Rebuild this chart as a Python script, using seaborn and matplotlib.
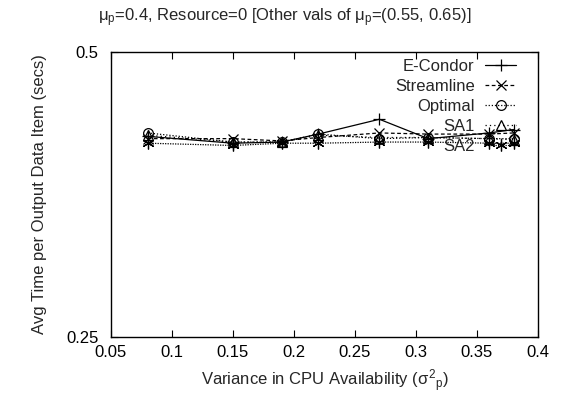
import pandas as pd
import matplotlib
matplotlib.use('Agg')
import matplotlib.pyplot as plt
import seaborn as sns

# datos
variance = [0.08, 0.15, 0.19, 0.22, 0.27, 0.31, 0.36, 0.38]
e_condor = [0.426, 0.420, 0.421, 0.428, 0.441, 0.424, 0.429, 0.432]
streamline = [0.424, 0.424, 0.422, 0.425, 0.429, 0.428, 0.428, 0.429]
optimal = [0.429, 0.421, 0.421, 0.428, 0.424, 0.425, 0.424, 0.424]
sa1 = [0.427, 0.421, 0.421, 0.427, 0.425, 0.425, 0.424, 0.423]
sa2 = [0.420, 0.418, 0.420, 0.420, 0.421, 0.421, 0.420, 0.420]

series_names = ['E-Condor', 'Streamline', 'Optimal', 'SA1', 'SA2']
xticks = [0.05, 0.1, 0.15, 0.2, 0.25, 0.3, 0.35, 0.4]
yticks = [0.25, 0.5]

sns.set_style('ticks')
plt.rcParams['font.family'] = ['Liberation Sans', 'DejaVu Sans']
plt.rcParams['mathtext.fontset'] = 'custom'
plt.rcParams['mathtext.rm'] = 'Liberation Sans'
plt.rcParams['mathtext.it'] = 'Liberation Sans'
plt.rcParams['mathtext.bf'] = 'Liberation Sans'

df = pd.DataFrame({'x': variance, 'E-Condor': e_condor, 'Streamline': streamline,
                   'Optimal': optimal, 'SA1': sa1, 'SA2': sa2})

estilos = {
    'E-Condor': dict(linestyle='-', marker='+', markersize=9),
    'Streamline': dict(linestyle=(0, (3, 2)), marker='x', markersize=7),
    'Optimal': dict(linestyle=(0, (1, 1.5)), marker='o', markersize=7, markerfacecolor='none'),
    'SA1': dict(linestyle=(0, (1, 2.5)), marker='^', markersize=6.5, markerfacecolor='none'),
    'SA2': dict(linestyle=(0, (1, 1)), marker=(6, 2, 0), markersize=8.5),
}

fig = plt.figure(figsize=(5.69, 4.0), dpi=100)
ax = fig.add_axes([0.195, 0.1575, 0.7505, 0.7125])

for nombre in series_names:
    sns.lineplot(data=df, x='x', y=nombre, ax=ax, color='black', linewidth=0.9,
                 markeredgewidth=0.9, markeredgecolor='black', label=nombre,
                 sort=False, errorbar=None, **estilos[nombre])

ax.set_xlim(0.05, 0.4)
ax.set_ylim(0.25, 0.5)
ax.set_xticks(xticks)
ax.set_xticklabels([f'{v:g}' for v in xticks])
ax.set_yticks(yticks)
ax.set_yticklabels([f'{v:g}' for v in yticks])
ax.tick_params(direction='in', top=True, right=True, length=5, width=0.8,
               labelsize=12, colors='black')
ax.tick_params(axis='x', pad=6)
ax.tick_params(axis='y', pad=9)
for s in ax.spines.values():
    s.set_linewidth(1.0)
    s.set_color('black')

ax.set_xlabel(r'Variance in CPU Availability ($\sigma^2{}_p$)', fontsize=12, labelpad=5)
ax.set_ylabel('Avg Time per Output Data Item (secs)', fontsize=12, labelpad=14)
fig.text(0.5, 0.955, r'$\mu_p$=0.4, Resource=0 [Other vals of $\mu_p$=(0.55, 0.65)]',
         ha='center', va='center', fontsize=12)

leg = ax.legend(loc='upper right', markerfirst=False, frameon=False, fontsize=12,
                handlelength=1.9, labelspacing=0.3, borderaxespad=0.0,
                handletextpad=0.6, bbox_to_anchor=(0.965, 1.0))

fig.savefig('out.png', dpi=100)
plt.close()
